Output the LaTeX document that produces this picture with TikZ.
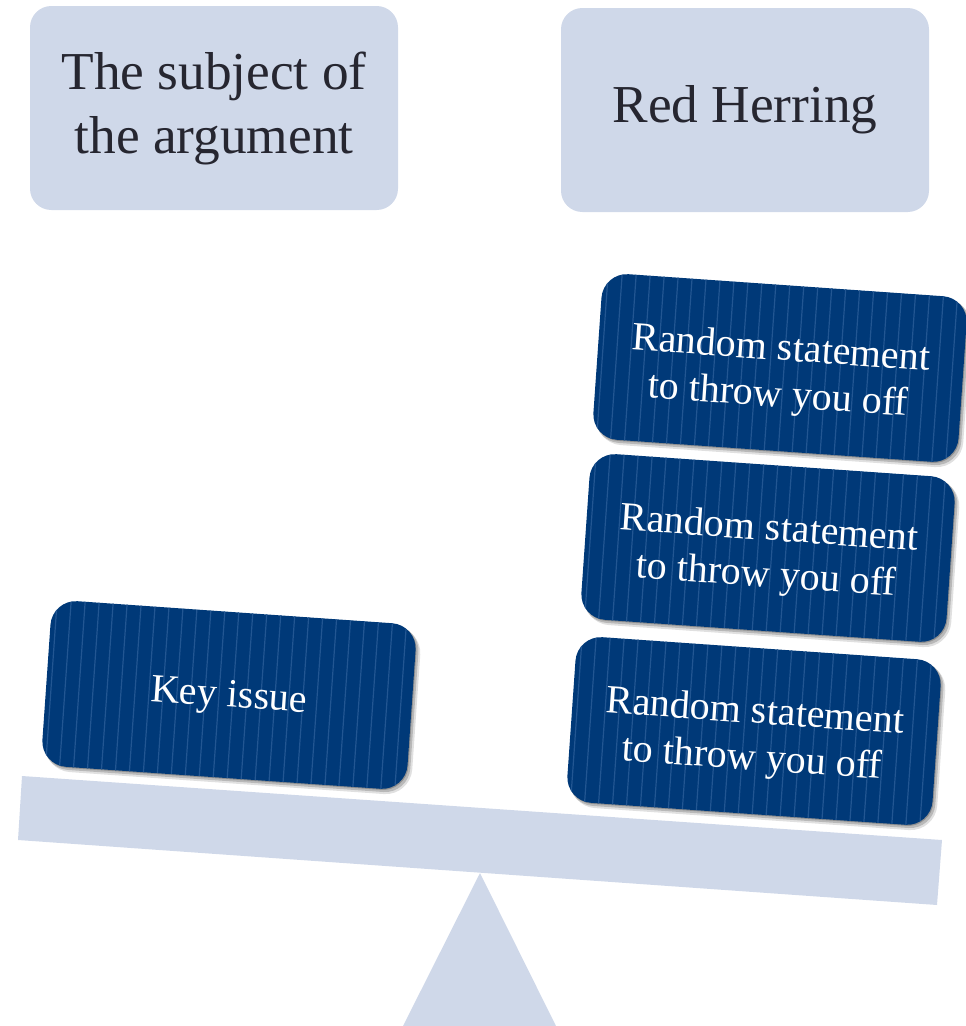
\documentclass[tikz,border=0pt]{standalone}
\usepackage{fontspec}
\setmainfont{Liberation Serif}
\definecolor{paleblue}{RGB}{207,216,233}
\definecolor{cardblue}{RGB}{0,57,120}
\definecolor{stripeblue}{RGB}{34,86,146}
\definecolor{darktext}{RGB}{38,38,48}
\tikzset{
  topbox/.style={fill=paleblue, rounded corners=16pt, minimum width=276pt, minimum height=153pt,
    align=center, text=darktext, font=\fontsize{40}{48}\selectfont, inner sep=0pt},
  cardtext/.style={text=white, align=center, font=\fontsize{30}{35}\selectfont, rotate=-4, inner sep=0pt},
  beamfill/.style={fill=paleblue},
  stripe/.style={draw=stripeblue, line width=0.9pt},
}
\newcommand\bluecard[5]{%
  \begin{scope}[shift={(#2,#3)}, rotate=-4]
    \fill[black, opacity=0.12, rounded corners=20pt] (-180,-80) rectangle (188,88);
    \fill[black, opacity=0.18, rounded corners=19pt] (-181,-81) rectangle (186,86);
    \fill[black, opacity=0.22, rounded corners=19pt] (-182,-82) rectangle (184,84);
    \fill[cardblue, rounded corners=19pt] (-183,-83) rectangle (183,83);
    \begin{scope}
      \clip[rounded corners=19pt] (-183,-83) rectangle (183,83);
      \foreach \sx in {-178,-164,...,182} \draw[stripe] (\sx,-90) -- (\sx,90);
    \end{scope}
    \node[cardtext] (#1) at (0,#5) {#4};
  \end{scope}}
\begin{document}
\begin{tikzpicture}[x=0.75pt, y=-0.75pt]
\useasboundingbox (0,0) rectangle (966,1026);
% top labels
\node[topbox] (subj) at (214,108) {The subject of\\the argument};
\node[topbox] (herring) at (745,110) {Red Herring};
% seesaw
\fill[beamfill] (480,873) -- (556,1026) -- (403,1026) -- cycle;
\fill[beamfill] (22,776) -- (942,840) -- (937,905) -- (18,840) -- cycle;
% cards
\bluecard{key}{229}{695}{Key issue}{3}
\bluecard{r1}{780}{368}{Random statement\\to throw you off}{6}
\bluecard{r2}{768}{548}{Random statement\\to throw you off}{6}
\bluecard{r3}{754}{731}{Random statement\\to throw you off}{6}
\end{tikzpicture}
\end{document}
